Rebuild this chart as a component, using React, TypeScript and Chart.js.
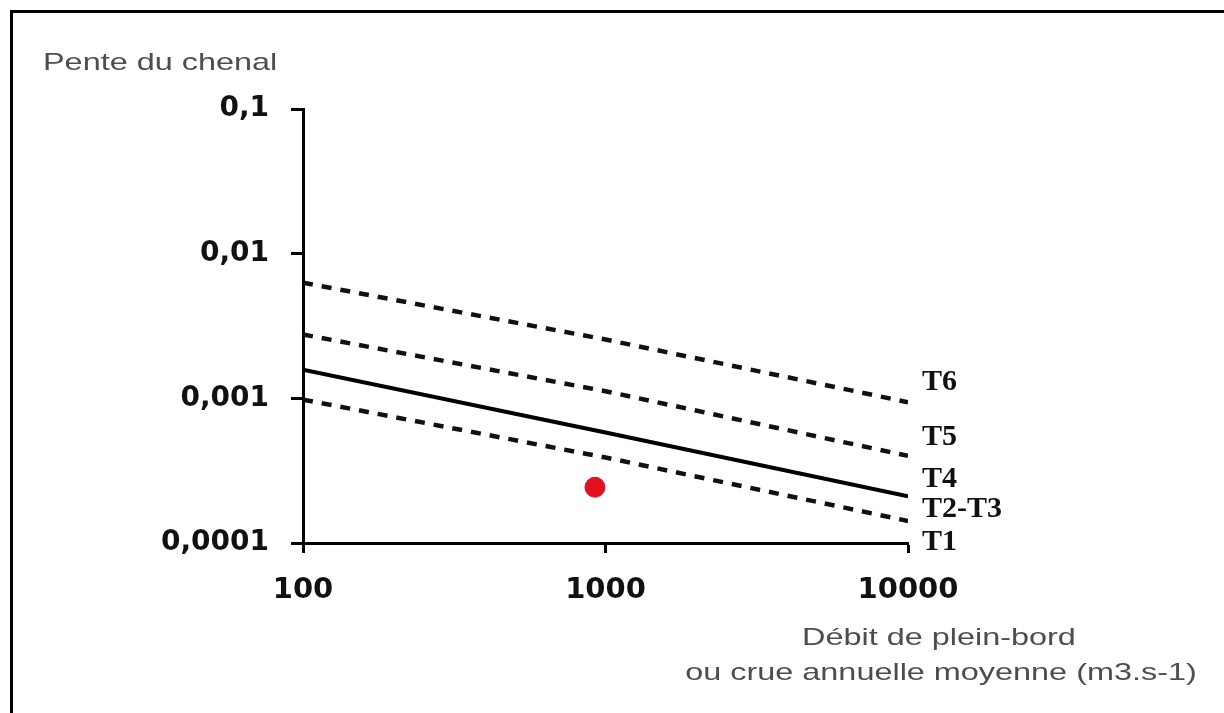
import React, { useEffect, useRef } from "react";
import { Chart, registerables } from "chart.js";

Chart.register(...registerables);

// ---- Data ----
const discharge = [100, 1000, 10000];
const slopeT6 = [0.0063, 0.00255, 0.00094];
const slopeT5 = [0.00276, 0.00112, 0.0004];
const slopeT4 = [0.00158, 0.00058, 0.00021];
const slopeT2T3 = [0.00098, 0.00039, 0.000142];
const pointDischarge = [923];
const pointSlope = [0.000243];

const xTickValues = [100, 1000, 10000];
const xTickLabels = ["100", "1000", "10000"];
const yTickValues = [0.0001, 0.001, 0.01, 0.1];
const yTickLabels = ["0,0001", "0,001", "0,01", "0,1"];

const lineLabels = ["T6", "T5", "T4", "T2-T3", "T1"];
const yTitle = "Pente du chenal";
const xTitleLines = ["Débit de plein-bord", "ou crue annuelle moyenne (m3.s-1)"];

// ---- Layout (pixels) ----
const W = 1224;
const H = 713;
const lineLabelY = [382, 437, 479, 509, 542];

function stretchedText(
  ctx: CanvasRenderingContext2D,
  text: string,
  x: number,
  y: number,
  sx: number,
  align: CanvasTextAlign
) {
  ctx.save();
  ctx.translate(x, y);
  ctx.scale(sx, 1);
  ctx.textAlign = align;
  ctx.fillText(text, 0, 0);
  ctx.restore();
}

const decorPlugin = {
  id: "decor",
  beforeDraw(chart: any) {
    const ctx: CanvasRenderingContext2D = chart.ctx;
    ctx.save();
    ctx.fillStyle = "#ffffff";
    ctx.fillRect(0, 0, W, H);
    ctx.fillStyle = "#000000";
    ctx.fillRect(10, 10, 3, H - 10);
    ctx.fillRect(10, 10, W - 10, 3);
    ctx.restore();
  },
  afterDraw(chart: any) {
    const ctx: CanvasRenderingContext2D = chart.ctx;
    const area = chart.chartArea;
    ctx.save();
    // axis titles
    ctx.fillStyle = "#4d4d4d";
    ctx.font = '24px "Liberation Sans"';
    ctx.textBaseline = "alphabetic";
    stretchedText(ctx, yTitle, 43, 70, 1.35, "left");
    stretchedText(ctx, xTitleLines[0], 939, 645, 1.35, "center");
    stretchedText(ctx, xTitleLines[1], 941, 680, 1.35, "center");
    // line labels
    ctx.fillStyle = "#111111";
    ctx.font = 'bold 30px "Liberation Serif"';
    ctx.textBaseline = "middle";
    ctx.textAlign = "left";
    lineLabels.forEach((t, i) => {
      ctx.fillText(t, area.right + 14, lineLabelY[i]);
    });
    ctx.restore();
  },
};

export default function App() {
  const ref = useRef<HTMLCanvasElement | null>(null);

  useEffect(() => {
    if (!ref.current) return;
    const dashed = (data: number[]) => ({
      type: "line" as const,
      data: discharge.map((x, i) => ({ x, y: data[i] })),
      borderColor: "#111111",
      borderWidth: 4.5,
      borderDash: [10, 9],
      pointRadius: 0,
      fill: false,
      tension: 0,
    });
    const chart = new Chart(ref.current, {
      type: "line",
      data: {
        datasets: [
          dashed(slopeT6),
          dashed(slopeT5),
          {
            type: "line",
            data: discharge.map((x, i) => ({ x, y: slopeT4[i] })),
            borderColor: "#000000",
            borderWidth: 4,
            pointRadius: 0,
            fill: false,
            tension: 0,
          },
          dashed(slopeT2T3),
          {
            type: "scatter",
            data: pointDischarge.map((x, i) => ({ x, y: pointSlope[i] })),
            backgroundColor: "#e3101f",
            borderColor: "#e3101f",
            pointRadius: 10,
            showLine: false,
          },
        ] as any,
      },
      plugins: [decorPlugin],
      options: {
        animation: false,
        responsive: false,
        devicePixelRatio: 1,
        events: [],
        layout: { padding: { left: 0, top: 109, right: 316, bottom: 0 } },
        plugins: {
          legend: { display: false },
          tooltip: { enabled: false },
          title: { display: false },
        },
        scales: {
          x: {
            type: "logarithmic",
            min: 100,
            max: 10000,
            afterBuildTicks: (scale: any) => {
              scale.ticks = xTickValues.map((v) => ({ value: v }));
            },
            afterFit: (scale: any) => {
              scale.height = 170;
            },
            ticks: {
              callback: (_v: any, i: number) => xTickLabels[i],
              font: { family: "DejaVu Sans", weight: "bold", size: 29 },
              color: "#111111",
              padding: 20,
              maxRotation: 0,
              autoSkip: false,
            },
            grid: {
              display: true,
              drawOnChartArea: false,
              drawTicks: true,
              tickLength: 10,
              tickWidth: 3,
              tickColor: "#000000",
            },
            border: { display: true, width: 3, color: "#000000" },
          },
          y: {
            type: "logarithmic",
            min: 0.0001,
            max: 0.1,
            afterBuildTicks: (scale: any) => {
              scale.ticks = yTickValues.map((v) => ({ value: v }));
            },
            afterFit: (scale: any) => {
              scale.width = 303;
            },
            ticks: {
              callback: (_v: any, i: number) => yTickLabels[i],
              font: { family: "DejaVu Sans", weight: "bold", size: 28 },
              color: "#111111",
              padding: 22,
              autoSkip: false,
            },
            grid: {
              display: true,
              drawOnChartArea: false,
              drawTicks: true,
              tickLength: 12,
              tickWidth: 3,
              tickColor: "#000000",
            },
            border: { display: true, width: 3, color: "#000000" },
          },
        },
      } as any,
    });
    return () => chart.destroy();
  }, []);

  return (
    <div style={{ position: "fixed", left: 0, top: 0, width: W, height: H, background: "#fff" }}>
      <canvas ref={ref} width={W} height={H} style={{ display: "block", width: W, height: H }} />
    </div>
  );
}
